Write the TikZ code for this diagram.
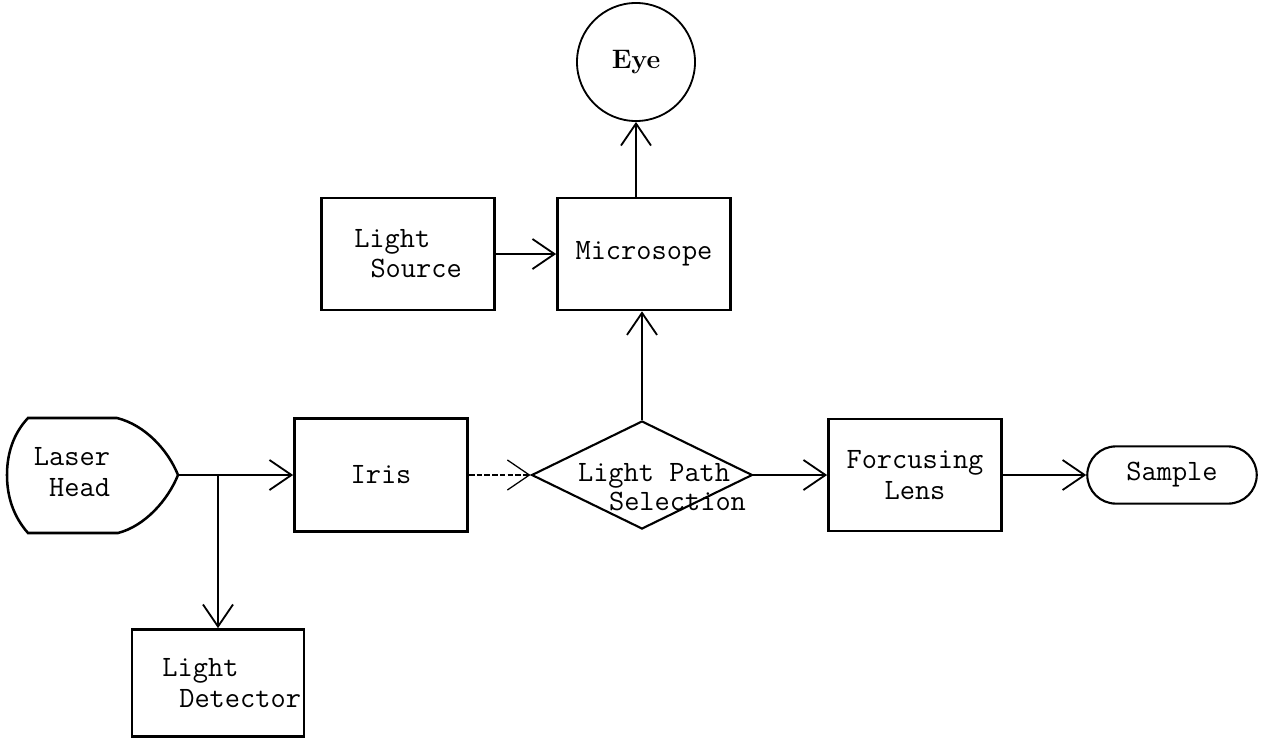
\documentclass[tikz,border=0pt]{standalone}
\usepackage{fontspec}
\usepackage{tikz}
\usetikzlibrary{arrows.meta,positioning,shapes.geometric,shapes.misc}

\begin{document}
\begin{tikzpicture}[
  x=0.025cm, y=-0.025cm,
  every node/.style={font=\fontsize{21}{21.5}\selectfont\ttfamily},
  blk/.style={draw, line width=1.8pt, minimum width=4.33cm, minimum height=2.8cm,
              align=left, inner sep=0pt},
  flow/.style={line width=1.3pt, -{Straight Barb[length=5.5mm, width=7.5mm]}}]

  \useasboundingbox (0,0) rectangle (1269,743);

  % viewing branch
  \node[draw, circle, line width=1.3pt, minimum size=2.95cm,
        font=\fontsize{19}{20}\selectfont\rmfamily\bfseries] (eye) at (636,62) {Eye};
  \node[blk] (src) at (408,254) {Light\\\hspace*{0.55em}Source};
  \node[blk] (mic) at (644,254) {Microsope};

  % laser head outline
  \node[align=right, inner sep=0pt] (laser) at (72,472) {Laser\\Head};
  \draw[line width=1.8pt] (28,418) -- (117,418)
    .. controls (145,425) and (168,450) .. (178,475)
    .. controls (168,500) and (145,526) .. (118,533) -- (28,533)
    .. controls (13,516) and (7,496) .. (7,475)
    .. controls (7,454) and (13,434) .. (28,418) -- cycle;
  \coordinate (tip) at (178,475);
  \coordinate (split) at (218,475);

  % main beam line
  \node[blk, minimum height=2.83cm, align=center] (iris) at (381,475) {Iris};
  \node[draw, diamond, line width=1.5pt, minimum width=5.52cm, minimum height=2.7cm,
        inner sep=0pt,
        label={[align=left, xshift=0.5cm, yshift=-0.3cm,
                font=\fontsize{21}{21}\selectfont\ttfamily]center:Light Path\\\hspace*{1.05em}Selection}]
        (sel) at (642,475) {};
  \node[blk, align=center] (lens) at (915,475) {Forcusing\\Lens};
  \node[draw, rounded rectangle, line width=1.5pt, minimum width=4.47cm,
        minimum height=1.43cm] (smp) at (1172,475) {Sample};
  \node[blk, minimum width=4.3cm, minimum height=2.68cm] (det) at (218,683)
        {\hspace*{0.93em}Light\\\hspace*{1.5em}Detector};

  \draw[flow] (src) -- (mic);
  \draw[flow] (mic.north -| eye) -- (eye);
  \draw[flow] (sel) -- (sel |- mic.south);
  \draw[line width=1.3pt] (tip) -- (split);
  \draw[flow] (split) -- (iris);
  \draw[flow] (split) -- (det);
  \draw[flow, line width=0.9pt, dash pattern=on 4pt off 1.5pt] (iris) -- (sel);
  \foreach \a/\b in {sel/lens, lens/smp} \draw[flow] (\a) -- (\b);
\end{tikzpicture}
\end{document}
